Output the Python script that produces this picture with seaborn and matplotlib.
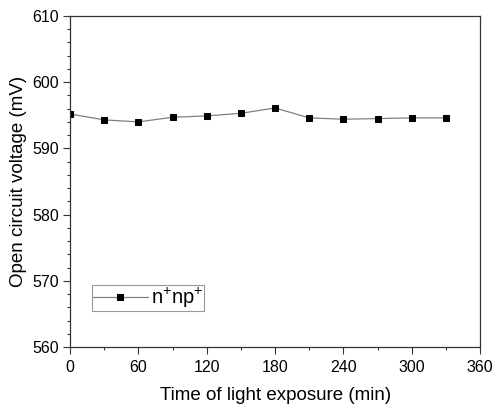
import matplotlib
matplotlib.use('Agg')
import matplotlib.pyplot as plt
import pandas as pd
import seaborn as sns
from matplotlib.ticker import MultipleLocator

# data
time_min = [0, 30, 60, 90, 120, 150, 180, 210, 240, 270, 300, 330]
voc_mv = [595.2, 594.3, 594.0, 594.7, 594.9, 595.3, 596.1, 594.6, 594.4, 594.5, 594.6, 594.6]
series_label = 'n$^{+}$np$^{+}$'

df = pd.DataFrame({'time': time_min, 'voc': voc_mv})

sns.set_style('ticks')
plt.rcParams['font.family'] = ['Liberation Sans', 'DejaVu Sans']
plt.rcParams['mathtext.fontset'] = 'custom'
plt.rcParams['mathtext.rm'] = 'Liberation Sans'
plt.rcParams['mathtext.it'] = 'Liberation Sans'
plt.rcParams['text.color'] = 'black'
plt.rcParams['axes.labelcolor'] = 'black'

fig = plt.figure(figsize=(4.93, 4.07), dpi=100)
ax = fig.add_axes([0.142, 0.147, 0.832, 0.814])

sns.lineplot(data=df, x='time', y='voc', ax=ax, color='#808080', linewidth=0.9,
             marker='s', markersize=4.5, markerfacecolor='black', markeredgecolor='black',
             label=series_label)

ax.set_xlim(0, 360)
ax.set_ylim(560, 610)
ax.xaxis.set_major_locator(MultipleLocator(60))
ax.xaxis.set_minor_locator(MultipleLocator(30))
ax.yaxis.set_major_locator(MultipleLocator(10))
ax.yaxis.set_minor_locator(MultipleLocator(2))
ax.tick_params(which='major', direction='out', length=5, width=0.8, labelsize=11.5,
               colors='#333333', labelcolor='black', pad=3)
ax.tick_params(axis='x', which='major', pad=4.5)
ax.tick_params(which='minor', direction='out', length=2.5, width=0.8, colors='#333333')
for s in ax.spines.values():
    s.set_linewidth(0.9)
    s.set_color('#333333')

ax.set_xlabel('Time of light exposure (min)', fontsize=13.5, labelpad=8.5)
ax.set_ylabel('Open circuit voltage (mV)', fontsize=13.5)

leg = ax.legend(loc='lower left', bbox_to_anchor=(0.054, 0.109), fontsize=14.5,
                frameon=True, fancybox=False, handlelength=2.7, borderpad=0.05,
                handletextpad=0.15, markerscale=0.85, borderaxespad=0)
leg.get_frame().set_edgecolor('#808080')
leg.get_frame().set_linewidth(0.8)

fig.savefig('out.png', dpi=100)
